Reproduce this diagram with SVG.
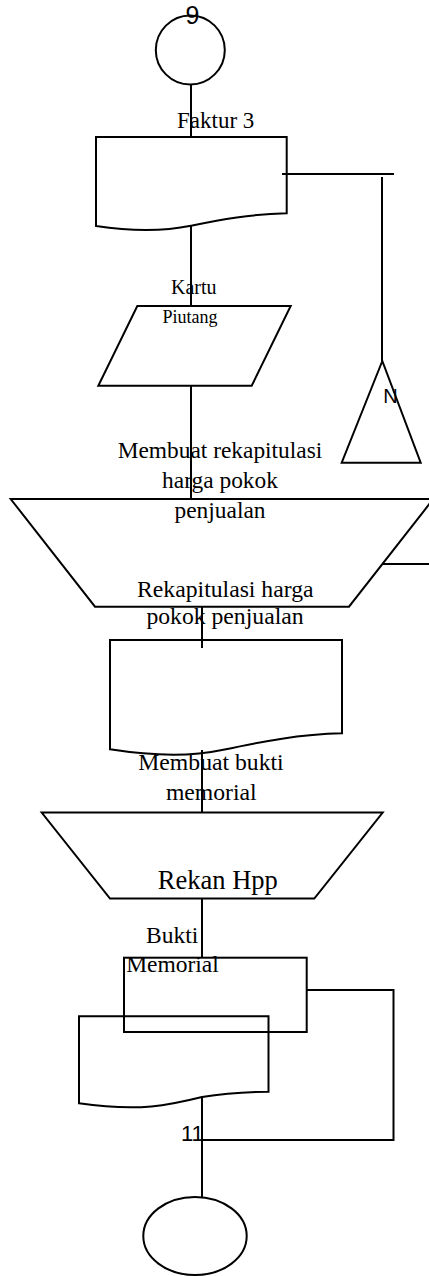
<svg xmlns="http://www.w3.org/2000/svg" width="429" height="1276" viewBox="0 0 429 1276">
<style>
.s{fill:none;stroke:#000;stroke-width:2;stroke-linejoin:miter}
.c{fill:none;stroke:#000;stroke-width:2}
.t{font-family:"Liberation Serif","Times New Roman",serif;fill:#000}
.m{text-anchor:middle}
.a{font-family:"Liberation Sans",Arial,sans-serif;fill:#000}
</style>
<rect width="429" height="1276" fill="#fff"/>
<g id="connectors">
<line class="c" x1="191" y1="85" x2="191" y2="137"/>
<line class="c" x1="191" y1="225" x2="191" y2="306"/>
<line class="c" x1="191" y1="386" x2="191" y2="499"/>
<line class="c" x1="282" y1="174" x2="394" y2="174" stroke-width="1.5"/>
<line class="c" x1="382" y1="177" x2="382" y2="361"/>
<line class="c" x1="382" y1="564" x2="429" y2="564"/>
<line class="c" x1="202" y1="607" x2="202" y2="648"/>
<line class="c" x1="202" y1="750" x2="202" y2="812.5"/>
<line class="c" x1="202" y1="899" x2="202" y2="957"/>
<polyline class="c" points="306.7,990 393.5,990 393.5,1140 202,1140"/>
<line class="c" x1="202" y1="1097" x2="202" y2="1197"/>
</g>
<g id="start">
<circle class="s" cx="190.3" cy="50" r="34.5"/>
<text class="a m" x="192.5" y="24" font-size="25">9</text>
</g>
<g id="faktur3">
<path class="s" d="M96,137 H286.7 V213.3 C250,214 220,220 191,225.7 C165,231 130,231 96,226 Z"/>
<text class="t" x="177" y="128" font-size="23">Faktur 3</text>
</g>
<g id="kartu-piutang">
<polygon class="s" points="137.3,306 290.7,306 251.7,385.7 98.3,385.7"/>
<text class="t" x="171" y="294" font-size="20">Kartu</text>
<text class="t" x="162.5" y="322.5" font-size="18">Piutang</text>
</g>
<g id="arsip-n">
<polygon class="s" points="382.3,361 341.7,462.7 420.7,462.7"/>
<text class="a" x="383.3" y="403.3" font-size="20">N</text>
</g>
<g id="membuat-rekap">
<polygon class="s" points="10.7,499 433.3,499 349,606.7 95,606.7"/>
<text class="t m" x="220" y="458.3" font-size="23.4">Membuat rekapitulasi</text>
<text class="t m" x="220" y="488" font-size="23.4">harga pokok</text>
<text class="t m" x="220" y="518" font-size="23.4">penjualan</text>
</g>
<g id="rekap-hpp">
<path class="s" d="M110,640 H342 V733.3 C300,734 260,742 222,750 C185,758 140,754 110,749.3 Z"/>
<text class="t m" x="225.3" y="596.7" font-size="23.7">Rekapitulasi harga</text>
<text class="t m" x="225" y="624" font-size="23.7">pokok penjualan</text>
</g>
<g id="membuat-bukti">
<polygon class="s" points="41.7,812.5 382.7,812.5 314.3,898.5 110,898.5"/>
<text class="t m" x="211" y="770" font-size="23.7">Membuat bukti</text>
<text class="t m" x="211.3" y="800" font-size="23.7">memorial</text>
<text class="t m" x="217.8" y="889.3" font-size="26.5">Rekan Hpp</text>
</g>
<g id="bukti-memorial-rect">
<rect class="s" x="124" y="957.7" width="182.7" height="74.3" stroke-width="3"/>
<text class="t m" x="172.2" y="943.3" font-size="23.5">Bukti</text>
<text class="t m" x="172.5" y="972.3" font-size="23.5">Memorial</text>
</g>
<g id="bukti-memorial-doc">
<path class="s" d="M79,1016.3 H268.5 V1091.7 C240,1092 220,1094 202,1097 C170,1105 140,1112 79,1103.3 Z"/>
</g>
<g id="connector-11">
<text class="a" x="181" y="1140.7" font-size="22">11</text>
</g>
<g id="end">
<ellipse class="s" cx="195" cy="1236" rx="51.7" ry="39"/>
</g>
</svg>
